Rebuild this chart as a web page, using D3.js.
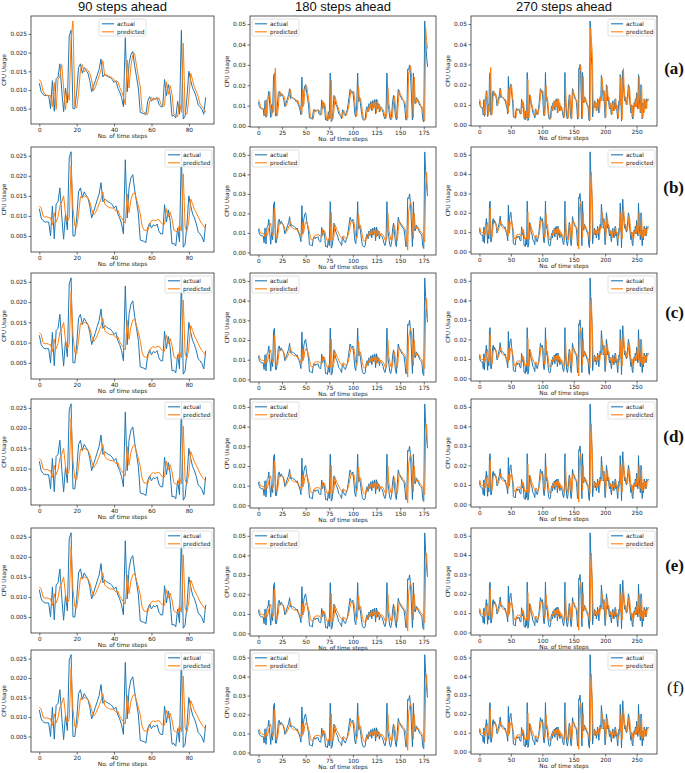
<!DOCTYPE html>
<html><head><meta charset="utf-8">
<script src="https://cdn.jsdelivr.net/npm/d3@7"></script>
<style>body{margin:0;background:#fff} svg{display:block}</style>
</head><body>
<svg id="c" width="685" height="773"></svg>
<script>
// ---------------- DATA ----------------
const actual = [
.0118,.0095,.0088,.0085,.0085,.0085,.0050,.0125,.0043,.0130,
.0135,.0170,.0100,.0042,.0105,.0065,.0245,.0260,.0050,.0050,
.0095,.0160,.0170,.0145,.0160,.0152,.0145,.0125,.0095,.0110,
.0125,.0140,.0155,.0183,.0135,.0142,.0138,.0135,.0133,.0128,
.0120,.0125,.0105,.0095,.0080,.0055,.0240,.0095,.0170,.0195,
.0203,.0165,.0135,.0105,.0040,.0038,.0037,.0033,.0070,.0082,
.0070,.0078,.0075,.0080,.0062,.0055,.0055,.0128,.0085,.0115,
.0088,.0030,.0032,.0025,.0070,.0035,.0260,.0022,.0030,.0080,
.0150,.0125,.0105,.0095,.0080,.0060,.0055,.0048,.0035,.0080,
.0070,.0055,.0050,.0065,.0080,.0110,.0145,.0180,.0165,.0160,
.0170,.0120,.0060,.0045,.0100,.0260,.0120,.0140,.0110,.0070,
.0040,.0030,.0028,.0035,.0080,.0095,.0070,.0110,.0085,.0120,
.0075,.0125,.0090,.0130,.0060,.0130,.0085,.0110,.0070,.0095,
.0085,.0080,.0065,.0045,.0035,.0060,.0260,.0110,.0080,.0040,
.0030,.0055,.0120,.0150,.0100,.0050,.0030,.0110,.0180,.0160,
.0150,.0140,.0130,.0125,.0120,.0085,.0030,.0030,.0280,.0275,
.0300,.0250,.0140,.0030,.0260,.0120,.0110,.0140,.0130,.0120,
.0110,.0100,.0095,.0085,.0030,.0020,.0515,.0420,.0340,.0290,
.0040,.0080,.0095,.0120,.0085,.0110,.0070,.0090,.0130,.0100,
.0060,.0110,.0140,.0120,.0245,.0200,.0160,.0120,.0170,.0090,
.0035,.0120,.0200,.0170,.0120,.0140,.0100,.0080,.0110,.0070,
.0050,.0100,.0120,.0090,.0070,.0110,.0130,.0080,.0100,.0060,
.0030,.0080,.0120,.0100,.0250,.0130,.0020,.0180,.0270,.0200,
.0150,.0120,.0140,.0110,.0100,.0130,.0160,.0200,.0180,.0120,
.0090,.0060,.0100,.0040,.0030,.0080,.0110,.0100,.0130,.0090,
.0160,.0120,.0080,.0250,.0150,.0100,.0060,.0200,.0090,.0030,
.0110,.0060,.0130,.0100,.0120,.0080,.0130,.0120,.0125,.0130];

const predictedA = [
.0128,.0120,.0097,.0088,.0086,.0085,.0085,.0055,.0120,.0048,
.0128,.0138,.0168,.0105,.0047,.0100,.0072,.0235,.0285,.0058,
.0052,.0090,.0155,.0168,.0148,.0158,.0152,.0145,.0127,.0098,
.0108,.0124,.0138,.0153,.0178,.0138,.0140,.0137,.0135,.0133,
.0128,.0120,.0123,.0107,.0096,.0082,.0060,.0180,.0105,.0165,
.0193,.0198,.0165,.0135,.0108,.0045,.0040,.0038,.0035,.0068,
.0080,.0072,.0077,.0075,.0079,.0063,.0056,.0058,.0122,.0088,
.0112,.0088,.0035,.0033,.0028,.0068,.0040,.0225,.0040,.0035,
.0078,.0145,.0126,.0107,.0096,.0082,.0062,.0056,.0050,.0040,
.0078,.0072,.0057,.0052,.0066,.0082,.0108,.0142,.0176,.0165,
.0160,.0168,.0122,.0063,.0048,.0098,.0195,.0125,.0138,.0110,
.0072,.0043,.0033,.0030,.0037,.0078,.0094,.0072,.0108,.0087,
.0118,.0078,.0122,.0092,.0128,.0063,.0128,.0087,.0108,.0072,
.0094,.0085,.0080,.0067,.0048,.0038,.0062,.0190,.0112,.0080,
.0043,.0033,.0056,.0118,.0148,.0102,.0053,.0034,.0108,.0176,
.0160,.0150,.0140,.0130,.0125,.0120,.0087,.0035,.0040,.0265,
.0270,.0295,.0250,.0142,.0040,.0240,.0122,.0112,.0138,.0130,
.0120,.0110,.0100,.0095,.0086,.0035,.0025,.0480,.0420,.0380,
.0300,.0060,.0082,.0096,.0118,.0087,.0108,.0072,.0090,.0127,
.0100,.0063,.0108,.0138,.0122,.0235,.0198,.0160,.0122,.0165,
.0092,.0040,.0118,.0195,.0168,.0122,.0138,.0100,.0082,.0108,
.0072,.0053,.0098,.0118,.0090,.0072,.0108,.0128,.0082,.0098,
.0062,.0035,.0078,.0118,.0100,.0240,.0130,.0028,.0175,.0280,
.0200,.0150,.0122,.0138,.0110,.0100,.0128,.0158,.0195,.0178,
.0122,.0092,.0063,.0098,.0043,.0033,.0078,.0108,.0100,.0128,
.0092,.0155,.0120,.0082,.0240,.0150,.0102,.0063,.0195,.0090,
.0035,.0108,.0062,.0128,.0100,.0118,.0082,.0128,.0120,.0124];

const predictedB = [
.0125,.0120,.0100,.0097,.0098,.0096,.0095,.0078,.0108,.0085,
.0098,.0125,.0135,.0150,.0105,.0085,.0095,.0225,.0120,.0075,
.0072,.0105,.0148,.0145,.0150,.0148,.0145,.0135,.0118,.0102,
.0108,.0118,.0130,.0142,.0160,.0130,.0125,.0122,.0120,.0120,
.0118,.0112,.0115,.0102,.0095,.0088,.0082,.0155,.0108,.0140,
.0155,.0158,.0142,.0125,.0105,.0075,.0065,.0064,.0063,.0078,
.0088,.0090,.0088,.0090,.0091,.0084,.0080,.0079,.0118,.0098,
.0110,.0092,.0065,.0062,.0060,.0078,.0062,.0205,.0072,.0062,
.0088,.0142,.0130,.0116,.0108,.0098,.0088,.0080,.0075,.0068,
.0085,.0080,.0072,.0070,.0078,.0090,.0110,.0135,.0160,.0155,
.0150,.0158,.0125,.0085,.0070,.0095,.0195,.0130,.0140,.0115,
.0085,.0065,.0058,.0056,.0060,.0085,.0095,.0082,.0108,.0092,
.0115,.0088,.0118,.0098,.0122,.0080,.0120,.0095,.0108,.0085,
.0098,.0092,.0088,.0078,.0065,.0060,.0075,.0200,.0115,.0092,
.0068,.0060,.0072,.0118,.0140,.0108,.0072,.0060,.0108,.0160,
.0155,.0148,.0140,.0132,.0128,.0122,.0100,.0060,.0012,.0210,
.0240,.0260,.0235,.0150,.0070,.0200,.0130,.0120,.0135,.0128,
.0120,.0112,.0105,.0100,.0095,.0065,.0055,.0340,.0410,.0300,
.0220,.0080,.0088,.0098,.0115,.0095,.0108,.0085,.0095,.0120,
.0105,.0082,.0108,.0130,.0122,.0200,.0185,.0155,.0125,.0155,
.0100,.0068,.0112,.0175,.0160,.0125,.0135,.0108,.0092,.0108,
.0085,.0072,.0100,.0115,.0095,.0085,.0108,.0122,.0092,.0100,
.0080,.0065,.0085,.0115,.0105,.0200,.0130,.0065,.0165,.0230,
.0195,.0150,.0125,.0135,.0115,.0105,.0125,.0150,.0180,.0170,
.0128,.0100,.0080,.0100,.0068,.0062,.0085,.0105,.0100,.0122,
.0098,.0145,.0120,.0092,.0200,.0148,.0108,.0080,.0175,.0098,
.0068,.0105,.0080,.0120,.0102,.0115,.0090,.0125,.0118,.0120];

const horizons = [90, 180, 270];
const columnTitles = ["90 steps ahead", "180 steps ahead", "270 steps ahead"];
const rowLabels = ["(a)", "(b)", "(c)", "(d)", "(e)", "(f)"];
const rowPredicted = [predictedA, predictedB, predictedB, predictedB, predictedB, predictedB];
const seriesNames = ["actual", "predicted"];
const xTickValues = [[0,20,40,60,80],[0,25,50,75,100,125,150,175],[0,50,100,150,200,250]];
const yTickValues = [[0.005,0.010,0.015,0.020,0.025],[0,0.01,0.02,0.03,0.04,0.05],[0,0.01,0.02,0.03,0.04,0.05]];
const yTickFormats = [".3f", ".2f", ".2f"];
const xLabel = "No. of time steps";
const yLabel = "CPU Usage";

// ---------------- LAYOUT ----------------
const colors = {actual: "#1f77b4", predicted: "#ff7f0e"};
const colX = [[31,214],[250,436],[471,657]];
const rowY = [[16,124],[147,252],[273,379],[399,505],[528,633],[650,752]];
const colBottomExtra = [0, 3, 2];
const legendLoc = [
  ["center","left","right"],
  ["right","left","right"],
  ["right","left","right"],
  ["right","left","right"],
  ["right","left","right"],
  ["right","left","right"]];
const smallFont = "DejaVu Sans";
const fs = 5.8;

const svg = d3.select("#c");

columnTitles.forEach((t,ci)=>{
  svg.append("text").attr("x",(colX[ci][0]+colX[ci][1])/2).attr("y",11)
    .attr("text-anchor","middle").attr("font-family","Liberation Sans, Arial, sans-serif")
    .attr("font-size",13).attr("fill","#111").text(t);
});

rowLabels.forEach((lab,ri)=>{
  const yc = [69,188,313,437,566,688][ri];
  svg.append("text").attr("x",684).attr("y",yc+5).attr("text-anchor","end")
    .attr("font-family","Liberation Serif, Times New Roman, serif")
    .attr("font-weight", ri===5 ? "normal" : "bold")
    .attr("font-size",17).attr("fill","#111").text(lab);
});

for (let ri=0; ri<6; ri++) {
  for (let ci=0; ci<3; ci++) {
    const n = horizons[ci];
    const act = actual.slice(0,n);
    const pre = rowPredicted[ri].slice(0,n);
    const x0 = colX[ci][0], x1 = colX[ci][1];
    const y0 = rowY[ri][0], y1 = rowY[ri][1] + colBottomExtra[ci];
    const all = act.concat(pre);
    const lo = d3.min(all), hi = d3.max(all), pad = (hi-lo)*0.05;
    const x = d3.scaleLinear().domain([-(n-1)*0.05, (n-1)*1.05]).range([x0,x1]);
    const y = d3.scaleLinear().domain([lo-pad, hi+pad]).range([y1,y0]);
    const g = svg.append("g");

    // axes
    const xa = g.append("g").attr("transform",`translate(0,${y1})`)
      .call(d3.axisBottom(x).tickValues(xTickValues[ci]).tickSize(2.5).tickPadding(1.5).tickFormat(d3.format("d")));
    const ya = g.append("g").attr("transform",`translate(${x0},0)`)
      .call(d3.axisLeft(y).tickValues(yTickValues[ci]).tickSize(2.5).tickPadding(1.5).tickFormat(d3.format(yTickFormats[ci])));
    [xa,ya].forEach(a=>{
      a.select(".domain").remove();
      a.selectAll("line").attr("stroke","#333").attr("stroke-width",0.7);
      a.selectAll("text").attr("font-family",smallFont).attr("font-size",fs).attr("fill","#222");
    });

    // lines
    const line = d3.line().x((d,i)=>x(i)).y(d=>y(d));
    g.append("path").datum(act).attr("d",line).attr("fill","none")
      .attr("stroke",colors.actual).attr("stroke-width",1);
    g.append("path").datum(pre).attr("d",line).attr("fill","none")
      .attr("stroke",colors.predicted).attr("stroke-width",1);

    // frame
    g.append("rect").attr("x",x0).attr("y",y0).attr("width",x1-x0).attr("height",y1-y0)
      .attr("fill","none").attr("stroke","#333").attr("stroke-width",0.8);

    // labels
    g.append("text").attr("x",(x0+x1)/2).attr("y",y1+13.5).attr("text-anchor","middle")
      .attr("font-family",smallFont).attr("font-size",fs).attr("fill","#222").text(xLabel);
    let tickW = 0;
    ya.selectAll("text").each(function(){ tickW = Math.max(tickW, this.getComputedTextLength()); });
    g.append("text").attr("transform",`translate(${x0-4-tickW-4},${(y0+y1)/2}) rotate(-90)`)
      .attr("text-anchor","middle").attr("font-family",smallFont).attr("font-size",fs)
      .attr("fill","#222").text(yLabel);

    // legend
    const lw = 47, lh = 17;
    const loc = legendLoc[ri][ci];
    const lx = loc==="left" ? x0+2 : loc==="right" ? x1-2-lw : (x0+x1)/2 - lw/2;
    const ly = y0+3;
    const lg = g.append("g").attr("transform",`translate(${lx},${ly})`);
    lg.append("rect").attr("width",lw).attr("height",lh).attr("rx",1.5)
      .attr("fill","#fff").attr("fill-opacity",0.85).attr("stroke","#ccc").attr("stroke-width",0.6);
    seriesNames.forEach((s,k)=>{
      const yy = 4.8 + k*8;
      lg.append("line").attr("x1",3).attr("x2",15).attr("y1",yy).attr("y2",yy)
        .attr("stroke",colors[s]).attr("stroke-width",1.1);
      lg.append("text").attr("x",18).attr("y",yy+2).attr("font-family",smallFont)
        .attr("font-size",fs).attr("fill","#222").text(s);
    });
  }
}
</script>
</body></html>
